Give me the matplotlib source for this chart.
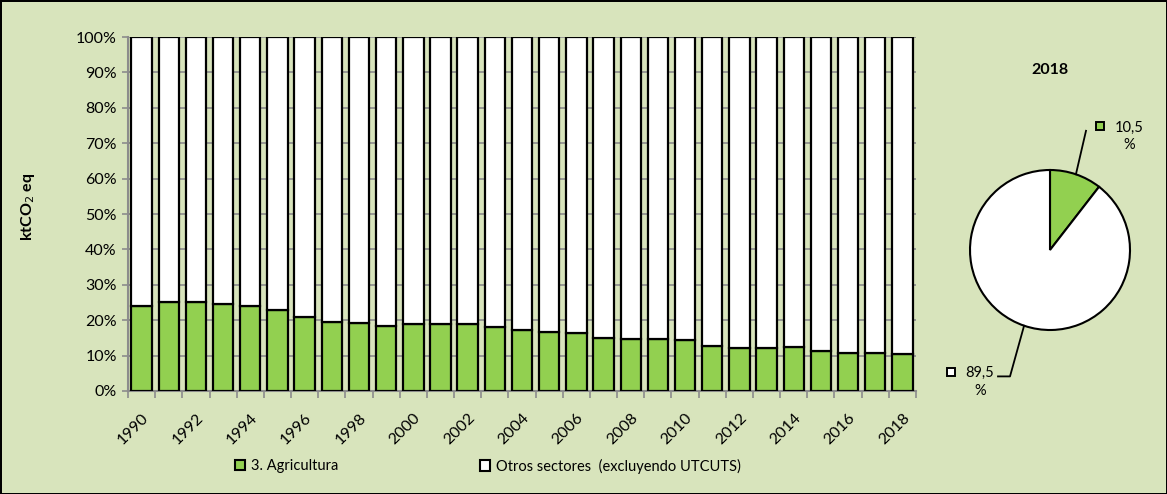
"""
Participación del sector Agricultura en las emisiones totales (sin UTCUTS),
1990-2018, con un gráfico circular para el último año.
"""

import matplotlib
matplotlib.use("Agg")
import matplotlib.pyplot as plt
from matplotlib.patches import Rectangle
import numpy as np

plt.rcParams["font.family"] = ["Lato", "DejaVu Sans"]

years = list(range(1990, 2019))
agricultura = [24.1, 25.1, 25.1, 24.6, 24.0, 23.0, 21.0, 19.5, 19.1, 18.3,
               18.8, 19.0, 18.9, 18.2, 17.3, 16.8, 16.5, 15.1, 14.8, 14.8,
               14.5, 12.7, 12.1, 12.1, 12.3, 11.3, 10.8, 10.6, 10.5]
otros = [100 - v for v in agricultura]

pie_labels = ["3. Agricultura", "Otros sectores  (excluyendo UTCUTS)"]
pie_values = [10.5, 89.5]
pie_year = "2018"

GREEN = "#92D050"
BG = "#D8E4BC"
GRID = "#8C8C8C"
FS = 11.5

fig = plt.figure(figsize=(11.67, 4.94), dpi=100, facecolor=BG,
                 edgecolor="black", linewidth=2)

# --- stacked 100% columns ---
ax = fig.add_axes([128 / 1167, 1 - 391 / 494, 788 / 1167, 354 / 494])
ax.set_facecolor(BG)
x = np.arange(len(years))
ax.bar(x, agricultura, width=0.75, color=GREEN, edgecolor="black",
       linewidth=1.6, zorder=3)
ax.bar(x, otros, bottom=agricultura, width=0.75, color="white",
       edgecolor="black", linewidth=1.6, zorder=3)

ax.set_xlim(-0.5, len(years) - 0.5)
ax.set_ylim(0, 100)
ax.set_yticks(range(0, 101, 10))
ax.set_yticklabels([f"{v}%" for v in range(0, 101, 10)], fontsize=FS)
ax.yaxis.grid(True, color=GRID, linewidth=1.2, zorder=0)
ax.tick_params(axis="y", length=4, color=GRID, width=1.2, pad=4)

ax.set_xticks(x[::2])
ax.set_xticklabels([str(y) for y in years[::2]], rotation=45, ha="right",
                   va="top", rotation_mode="anchor", fontsize=FS)
ax.set_xticks(np.arange(-0.5, len(years), 1), minor=True)
ax.tick_params(axis="x", which="major", length=0, pad=14)
ax.tick_params(axis="x", which="minor", length=5, color=GRID, width=1.2)

for side in ("top", "right"):
    ax.spines[side].set_visible(False)
for side in ("left", "bottom"):
    ax.spines[side].set_color(GRID)
    ax.spines[side].set_linewidth(1.5)

ax.set_ylabel("ktCO$_2$ eq", fontsize=FS, fontweight="bold")
ax.yaxis.set_label_coords(-0.115, 0.52)

# --- legend (one entry each, placed like the original) ---
cols = [GREEN, "white"]
anchors = [235 / 1167, 480 / 1167]
for lab, col, xa in zip(pie_labels, cols, anchors):
    h = Rectangle((0, 0), 1, 1, facecolor=col, edgecolor="black", linewidth=1.5)
    fig.legend([h], [lab], loc="center left", bbox_to_anchor=(xa, 1 - 466 / 494),
               frameon=False, fontsize=10.5, handlelength=0.7, handleheight=0.7,
               handletextpad=0.4, borderpad=0, borderaxespad=0)

# --- pie for the last year ---
r = 80
pax = fig.add_axes([(1050 - r) / 1167, 1 - (250 + r) / 494, 2 * r / 1167, 2 * r / 494])
wedges, _ = pax.pie(pie_values, colors=cols, startangle=90,
                    counterclock=False, radius=1,
                    wedgeprops=dict(edgecolor="black", linewidth=1.5))
pax.set_xlim(-1, 1)
pax.set_ylim(-1, 1)
pax.set_aspect("equal")
pax.text(0, 2.25, pie_year, ha="center", va="center", fontsize=FS,
         fontweight="bold")

angles = [np.deg2rad((w.theta1 + w.theta2) / 2) for w in wedges]
# label 1 (upper right)
a = angles[0]
pax.plot([np.cos(a), 0.45], [np.sin(a), 1.49], color="black", lw=1.3, clip_on=False)
pax.plot([0.63], [1.55], marker="s", ms=6, mfc=cols[0], mec="black", mew=1.4, clip_on=False)
pax.text(0.99, 1.42, f"{pie_values[0]:.1f}".replace(".", ",") + "\n%",
         ha="center", va="center", fontsize=10.5, linespacing=1.3)
# label 2 (lower left)
a = angles[1]
pax.plot([np.cos(a), -0.5, -0.65], [np.sin(a), -1.58, -1.58], color="black",
         lw=1.3, clip_on=False)
pax.plot([-1.24], [-1.52], marker="s", ms=6, mfc=cols[1], mec="black", mew=1.4, clip_on=False)
pax.text(-0.875, -1.65, f"{pie_values[1]:.1f}".replace(".", ",") + "\n%",
         ha="center", va="center", fontsize=10.5, linespacing=1.3)

fig.savefig("out.png", dpi=100, facecolor=BG)
